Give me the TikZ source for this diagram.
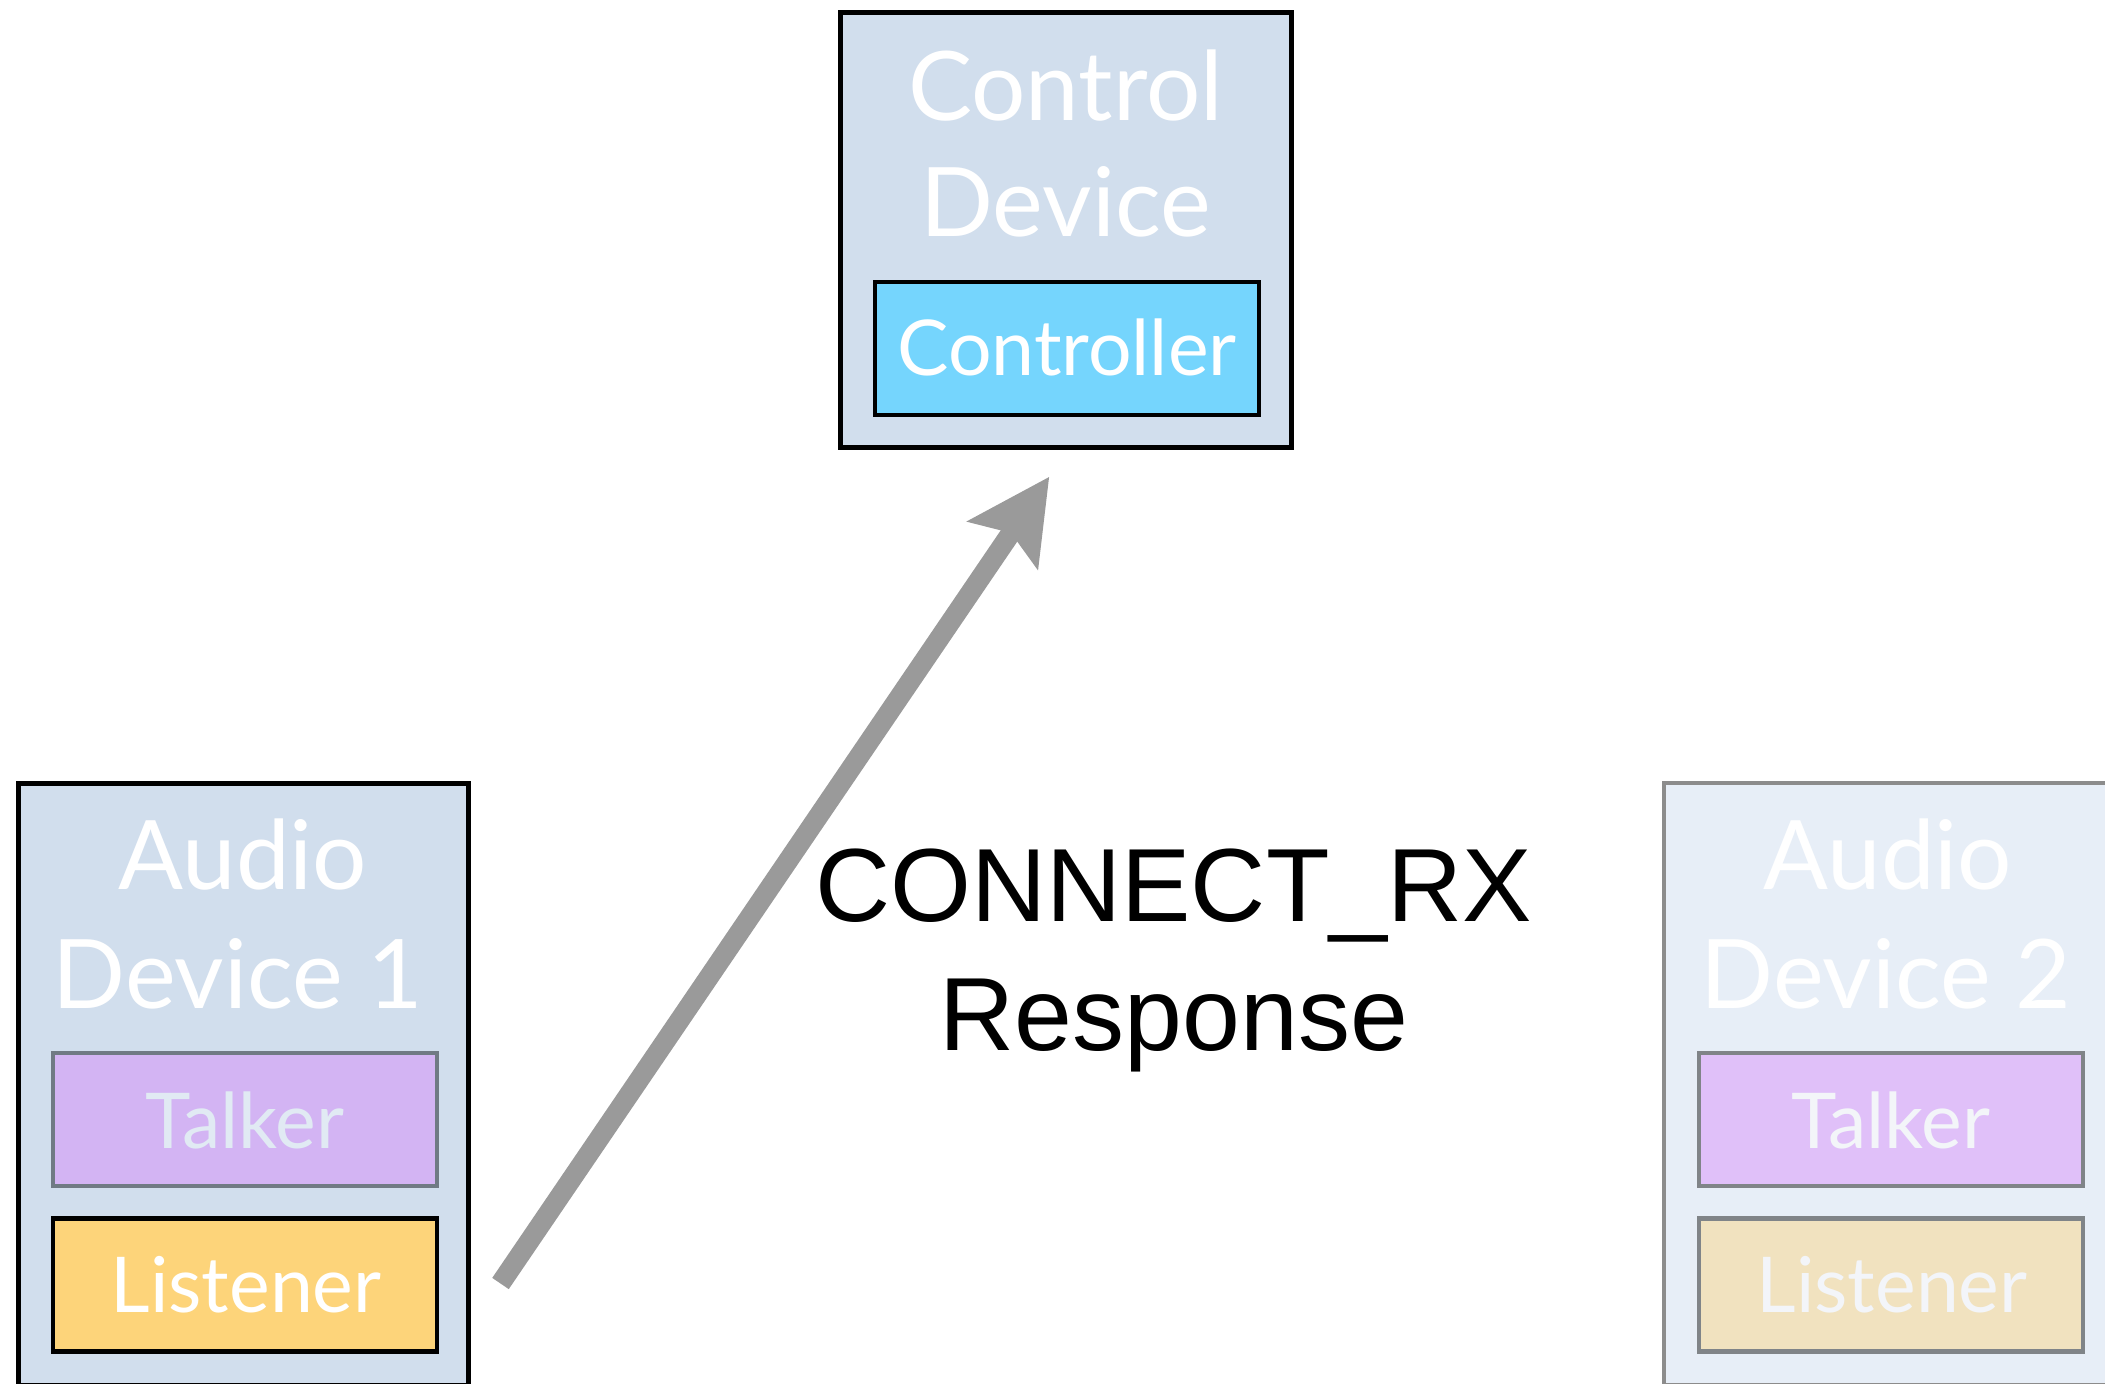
\documentclass[tikz,border=0pt]{standalone}
\usepackage{fontspec}
\setmainfont{Lato}
\newfontfamily\msgfont{Liberation Sans}
\usetikzlibrary{arrows.meta}

% fills and strokes
\definecolor{devfill}{HTML}{D1DEED}
\definecolor{devfilldim}{HTML}{E7EEF7}
\definecolor{devdrawdim}{HTML}{8C8C8C}
\definecolor{ctlfill}{HTML}{75D5FD}
\definecolor{talkfill}{HTML}{D3B4F3}
\definecolor{talkdraw}{HTML}{707A84}
\definecolor{lstfill}{HTML}{FDD47A}
\definecolor{talkfilldim}{HTML}{E0C0F9}
\definecolor{lstfilldim}{HTML}{F1E2BF}
\definecolor{subdrawdim}{HTML}{808488}
\definecolor{textdim}{HTML}{E1EAF3}
\definecolor{textfaint}{HTML}{F3F5F9}
\definecolor{arrowgray}{HTML}{9A9A9A}

\begin{document}
\begin{tikzpicture}[x=1pt,y=-1pt,
  box/.style={draw, rectangle, inner sep=0pt, line width=5pt},
  devbox/.style={box, minimum width=450.5pt},
  subbox/.style={box, line width=4.8pt, minimum width=384pt, minimum height=133pt},
  titlefont/.style={inner sep=0pt, anchor=base, font=\fontsize{96}{100}\selectfont},
  subfont/.style={inner sep=0pt, anchor=base, font=\fontsize{77}{80}\selectfont},
  msgtext/.style={inner sep=0pt, anchor=base, font=\msgfont\fontsize{104}{110}\selectfont},
  msgarrow/.style={draw=arrowgray, line width=20pt,
    -{Stealth[length=82pt, width=83pt, inset=14pt, fill=arrowgray]}}
]
\useasboundingbox (0,0) rectangle (2105,1384);

% control device
\node[devbox, fill=devfill, minimum height=434.5pt] (ctrl) at (1065.75,229.75) {};
\node[subbox, fill=ctlfill, draw=black] (controller) at (1067,348.5) {};

% audio device 1
\node[devbox, fill=devfill, minimum height=602pt] (dev1) at (243.7,1084) {};
\node[subbox, fill=talkfill, draw=talkdraw] (talk1) at (245,1119.5) {};
\node[subbox, fill=lstfill, draw=black] (lst1) at (245,1285) {};

% audio device 2 (inactive)
\node[devbox, fill=devfilldim, draw=devdrawdim, line width=4.5pt, minimum height=602pt] (dev2) at (1889.3,1084) {};
\node[subbox, fill=talkfilldim, draw=subdrawdim] (talk2) at (1891,1119.5) {};
\node[subbox, fill=lstfilldim, draw=subdrawdim] (lst2) at (1891,1285) {};

% labels
\node[titlefont, text=white] (ctrlA) at (1065.5,120) {Control};
\node[titlefont, text=white] (ctrlB) at (1065.5,236.7) {Device};
\node[subfont, text=white] (controllerL) at (1067,375) {Controller};

\node[titlefont, text=white] (dev1A) at (243,889) {Audio};
\node[titlefont, text=white] (dev1B) at (238,1008) {Device 1};
\node[subfont, text=textdim] (talk1L) at (245,1148) {Talker};
\node[subfont, text=white] (lst1L) at (246,1312.7) {Listener};

\node[titlefont, text=white] (dev2A) at (1888,889) {Audio};
\node[titlefont, text=white] (dev2B) at (1886,1008) {Device 2};
\node[subfont, text=textfaint] (talk2L) at (1891,1148) {Talker};
\node[subfont, text=textfaint] (lst2L) at (1892,1312.7) {Listener};

% response message from the listener up to the controller
\coordinate (rspFrom) at (500.5,1283.5);
\coordinate (rspTo) at (1049.3,476.7);
\draw[msgarrow] (rspFrom) -- (rspTo);

\node[msgtext] (msgA) at (1173.7,921.7) {CONNECT\_RX};
\node[msgtext] (msgB) at (1174,1050) {Response};
\end{tikzpicture}
\end{document}
